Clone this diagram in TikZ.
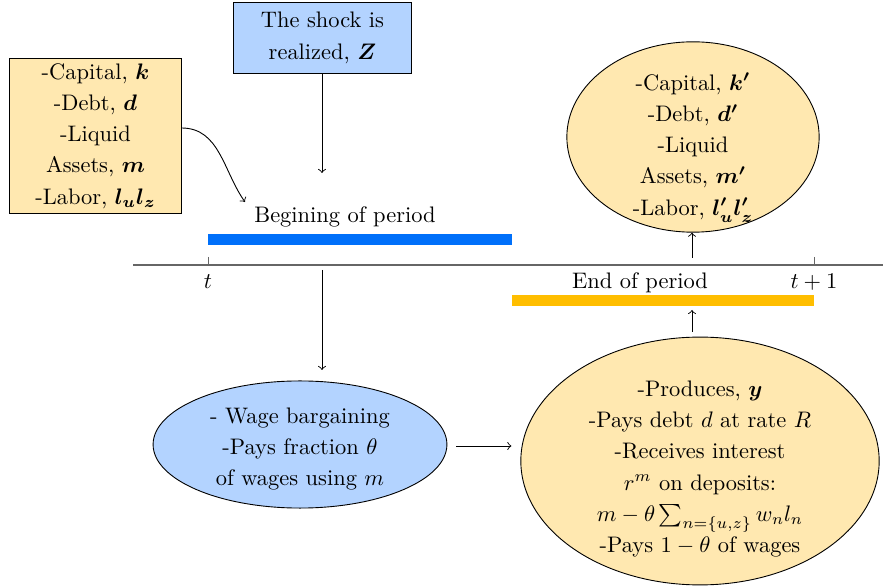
\documentclass[tikz,border=0pt]{standalone}
\usepackage{amsmath}
\usetikzlibrary{shapes.geometric}
\definecolor{shockblue}{RGB}{179,211,255}
\definecolor{stateyellow}{RGB}{255,232,176}
\definecolor{barblue}{RGB}{0,112,250}
\definecolor{barorange}{RGB}{255,190,0}
\begin{document}
\begin{tikzpicture}[x=0.01566cm,y=-0.01566cm,
  txt/.style={align=center,font=\linespread{1.16}\selectfont},
  box/.style={txt,draw=black,inner sep=2pt},
  oval/.style={txt,draw=black,ellipse,inner sep=-20pt}]
\useasboundingbox (0,0) rectangle (883,587);
%time line
\draw [black!60,line width=0.8pt] (133,265) -- (883,265);
\draw [black!60] (208,257) -- (208,265);
\draw [black!60] (814,257) -- (814,265);
\node (t0) at (208,282) {$t$};
\node (t1) at (814,282) {$t+1$};
%bars
\fill [barblue] (208,234) rectangle (512,245);
\node (beg) at (345,217) {Begining of period};
\fill [barorange] (512,295) rectangle (814,306);
\node (end) at (640,283) {End of period};
%S1
\node [box,fill=shockblue,minimum width=2.8cm,minimum height=1.1cm] (shock) at (322.5,38)
  {The shock is\\realized, $\boldsymbol{Z}$};
%S2
\node [box,fill=stateyellow,minimum width=2.68cm,minimum height=2.38cm] (state) at (95.5,136)
  {-Capital, $\boldsymbol{k}$\\-Debt, $\boldsymbol{d}$\\-Liquid\\Assets, $\boldsymbol{m}$\\-Labor, $\boldsymbol{l_u l_z}$};
%S3
\node [oval,fill=stateyellow,minimum width=3.95cm,minimum height=2.98cm] (next) at (693,137)
  {\rule{0pt}{17pt}-Capital, $\boldsymbol{k'}$\\-Debt, $\boldsymbol{d'}$\\-Liquid\\Assets, $\boldsymbol{m'}$\\-Labor, $\boldsymbol{l'_u l'_z}$};
%S4
\node [oval,fill=shockblue,minimum width=4.6cm,minimum height=1.99cm] (wage) at (300,444.5)
  {\rule{0pt}{11pt}- Wage bargaining\\-Pays fraction $\theta$\\of wages using $m$};
%S5
\node [oval,fill=stateyellow,minimum width=5.61cm,minimum height=3.88cm] (prod) at (700,461)
  {\rule{0pt}{14pt}-Produces, $\boldsymbol{y}$\\-Pays debt $d$ at rate $R$\\-Receives interest\\$r^m$ on deposits:\\$m-\theta\sum_{n=\{u,z\}}w_nl_n$\\-Pays $1-\theta$ of wages};
%arrows
\coordinate (shockend) at (322,173);
\coordinate (begend) at (245,202);
\coordinate (axdown) at (322,270);
\coordinate (wagetop) at (322,370);
\coordinate (axup) at (692,258);
\coordinate (prodtop) at (692,332);
\coordinate (barlow) at (692,310);
\draw [->] (shock.south -| shockend) -- (shockend);
\draw [->] (state.east |- 0,128) to[out=0,in=125] (begend);
\draw [->] (axdown) -- (wagetop);
\draw [->] (axup) -- (axup |- next.south);
\draw [->] (prodtop) -- (barlow);
\draw [->,shorten <=4pt,shorten >=4pt] (wage.east |- 0,446) -- (prod.west |- 0,446);
\end{tikzpicture}
\end{document}
